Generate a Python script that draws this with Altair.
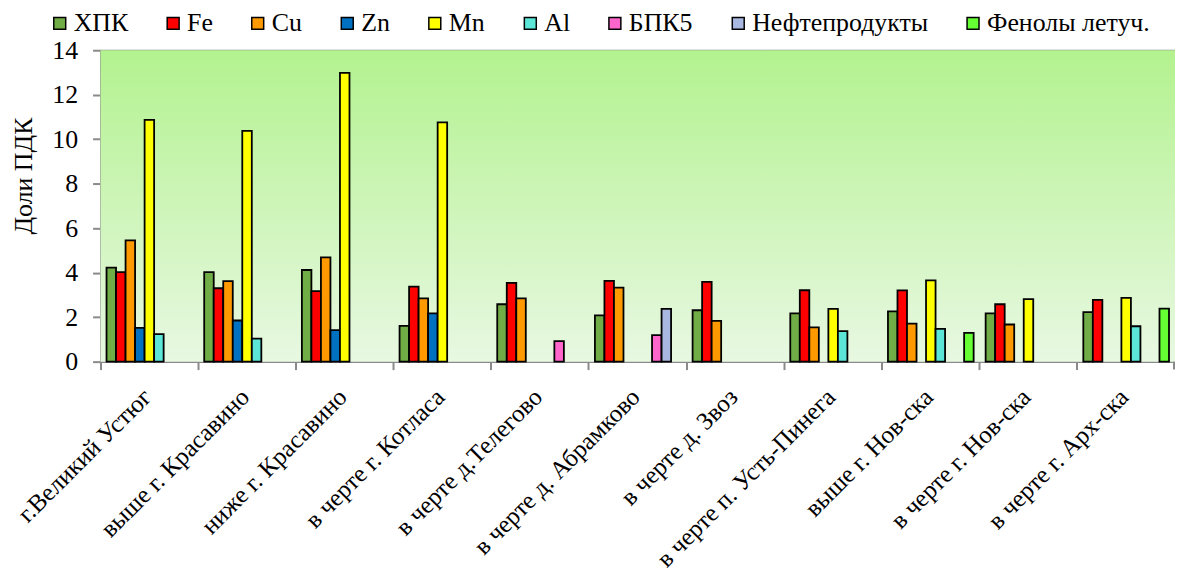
import altair as alt
import pandas as pd

locations = [
    "г.Великий Устюг", "выше г. Красавино", "ниже г. Красавино",
    "в черте г. Котласа", "в черте д.Телегово", "в черте д. Абрамково",
    "в черте д. Звоз", "в черте п. Усть-Пинега", "выше г. Нов-ска",
    "в черте г. Нов-ска", "в черте г. Арх-ска",
]
params = ["ХПК", "Fe", "Cu", "Zn", "Mn", "Al", "БПК5", "Нефтепродукты", "Фенолы летуч."]
colors = ["#70ad47", "#ff0000", "#ff9900", "#0070c0", "#ffff00",
          "#5ce6d8", "#ff66cc", "#a9b8e0", "#66ff33"]

xpk = [4.23, 4.02, 4.12, 1.61, 2.58, 2.08, 2.31, 2.17, 2.26, 2.17, 2.23]
fe = [4.02, 3.30, 3.17, 3.37, 3.54, 3.63, 3.59, 3.21, 3.20, 2.58, 2.78]
cu = [5.45, 3.62, 4.69, 2.84, 2.84, 3.33, 1.83, 1.54, 1.71, 1.67, None]
zn = [1.52, 1.85, 1.42, 2.17, None, None, None, None, None, None, None]
mn = [10.87, 10.37, 12.98, 10.76, None, None, None, 2.37, 3.65, 2.81, 2.87]
al = [1.24, 1.03, None, None, None, None, None, 1.37, 1.47, None, 1.59]
bpk5 = [None, None, None, None, 0.92, 1.19, None, None, None, None, None]
oil = [None, None, None, None, None, 2.37, None, None, None, None, None]
phenol = [None, None, None, None, None, None, None, None, 1.29, None, 2.38]

series = {"ХПК": xpk, "Fe": fe, "Cu": cu, "Zn": zn, "Mn": mn, "Al": al,
          "БПК5": bpk5, "Нефтепродукты": oil, "Фенолы летуч.": phenol}

rows = []
for p in params:
    for loc, v in zip(locations, series[p]):
        if v is not None:
            rows.append({"loc": loc, "param": p, "value": v})
df = pd.DataFrame(rows)

FONT = "Liberation Serif, Times New Roman, serif"
GRAY = "#8a8a8a"
W, H = 1080, 313

bg = alt.Chart(pd.DataFrame({"a": [0]})).mark_rect(
    fill={"gradient": "linear", "x1": 0, "y1": 0, "x2": 0, "y2": 1,
          "stops": [{"offset": 0, "color": "#b3f28f"},
                    {"offset": 1, "color": "#e8f8e2"}]},
    stroke=None,
).encode(x=alt.value(0), x2=alt.value(W), y=alt.value(0), y2=alt.value(H))

# closing tick at the right end of the category axis
end_tick = alt.Chart(pd.DataFrame({"a": [0]})).mark_rule(
    color=GRAY, strokeWidth=2
).encode(x=alt.value(W - 1), y=alt.value(H), y2=alt.value(H + 8))

bars = alt.Chart(df).mark_bar(stroke="black", strokeWidth=1.8).encode(
    x=alt.X("loc:N", sort=locations,
            scale=alt.Scale(paddingInner=0, paddingOuter=0),
            axis=alt.Axis(title=None, bandPosition=0, labelAngle=-45,
                          labelAlign="right", labelBaseline="middle",
                          labelOffset=-2, labelPadding=23, tickSize=8,
                          labelFont=FONT, labelFontSize=25, labelColor="black",
                          domainColor=GRAY, tickColor=GRAY, domainWidth=2,
                          tickWidth=2, labelLimit=500, grid=False)),
    xOffset=alt.XOffset("param:N", sort=params,
                        scale=alt.Scale(domain=params, paddingInner=0, paddingOuter=0.63)),
    y=alt.Y("value:Q", scale=alt.Scale(domain=[0, 14], nice=False),
            axis=alt.Axis(title="Доли ПДК", values=list(range(0, 15, 2)),
                          labelFont=FONT, labelFontSize=26, labelColor="black",
                          labelPadding=15, tickSize=8, tickColor=GRAY, tickWidth=2,
                          domainColor=GRAY, domainWidth=2,
                          gridColor=GRAY, gridWidth=2,
                          titleFont=FONT, titleFontSize=26, titleFontWeight="normal",
                          titleColor="black", titleX=-77, titleY=126,
                          titleAlign="center", titleBaseline="middle")),
    color=alt.Color("param:N", sort=params,
                    scale=alt.Scale(domain=params, range=colors),
                    legend=alt.Legend(title=None, orient="none", legendX=-54, legendY=-40,
                                      direction="horizontal", columns=9,
                                      symbolType="square", symbolSize=144,
                                      symbolStrokeColor="black", symbolStrokeWidth=1.5,
                                      symbolOpacity=1, labelFont=FONT, labelFontSize=26,
                                      labelColor="black", columnPadding=32,
                                      labelOffset=1, labelLimit=400, padding=0)),
)

chart = alt.layer(bg, bars, end_tick).properties(
    width=W, height=H,
    padding={"left": 93, "top": 41, "right": 0, "bottom": 210},
    autosize=alt.AutoSizeParams(type="none"),
).configure_view(stroke=None)

chart.save("out.html", embed_options={"renderer": "svg", "actions": False})
